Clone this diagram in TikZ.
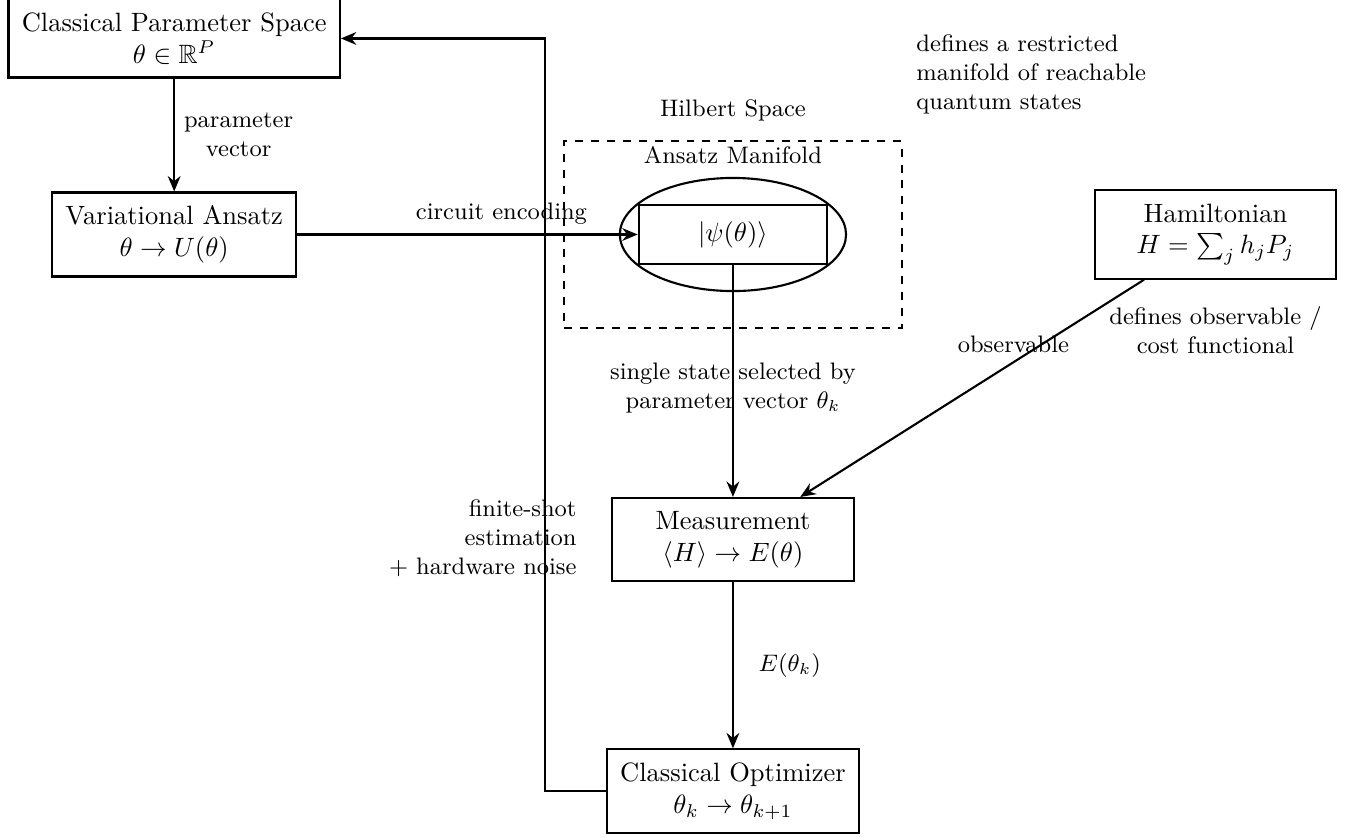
\documentclass[tikz,border=0pt]{standalone}
\usepackage{amsmath,amssymb}
\usepackage{tikz}
\usetikzlibrary{arrows.meta,shapes.geometric}
\tikzset{
  block/.style={draw, thick, align=center, inner sep=5pt, minimum width=3.2cm},
  flow/.style={-{Stealth[length=5.8pt, width=4.8pt]}, thick},
  note/.style={font=\small, align=center},
  statebox/.style={draw, thick, minimum width=2.5cm, minimum height=0.78cm},
  manifold/.style={draw, thick, ellipse, minimum width=3cm, minimum height=1.5cm},
  region/.style={draw, thick, dashed, minimum width=4.48cm, minimum height=2.47cm}
}

\begin{document}
\begin{tikzpicture}
  \useasboundingbox (0,0) rectangle (17.93,-11.09);
  % classical side
  \node[block] (cps) at (2.31,-0.51) {Classical Parameter Space\\$\theta\in\mathbb{R}^P$};
  \node[block] (va) at (2.31,-3.11) {Variational Ansatz\\$\theta\to U(\theta)$};
  % state space with the reachable manifold
  \node[region] (hilbert) at (9.72,-3.11) {};
  \node[manifold] (mfd) at (9.72,-3.11) {};
  \node[statebox] (psi) at (9.72,-3.11) {$|\psi(\theta)\rangle$};
  \node[note] (mfdlabel) at (9.72,-2.06) {Ansatz Manifold};
  \node[note] (hlabel) at (9.72,-1.47) {Hilbert Space};
  \node[note, align=left, anchor=west] (restrict) at (12.03,-0.99) {defines a restricted\\manifold of reachable\\quantum states};
  % cost side
  \node[block] (ham) at (16.12,-3.11) {Hamiltonian\\$H=\sum_j h_j P_j$};
  \node[note] (hamnote) at (16.12,-4.38) {defines observable /\\cost functional};
  \node[block] (meas) at (9.72,-7.155) {Measurement\\$\langle H\rangle\to E(\theta)$};
  \node[block] (opt) at (9.72,-10.49) {Classical Optimizer\\$\theta_k\to\theta_{k+1}$};
  \node[note, align=right, anchor=east] (noise) at (7.77,-7.14) {finite-shot\\estimation\\+ hardware noise};
  % connectors
  \draw[flow] (cps) -- (va) node[midway, right, note] {parameter\\vector};
  \draw[flow] (va) -- (psi) node[pos=0.6, above, note] {circuit encoding};
  \draw[flow] (psi) -- (meas) node[pos=0.53, note] {single state selected by\\parameter vector $\theta_k$};
  \draw[flow] (ham) -- (meas) node[pos=0.38, above, note] {observable};
  \draw[flow] (meas) -- (opt) node[midway, right=6pt, note] {$E(\theta_k)$};
  % feedback loop
  \draw[flow] (opt.west) -- ++(-0.81,0) |- (cps.east);
\end{tikzpicture}
\end{document}
